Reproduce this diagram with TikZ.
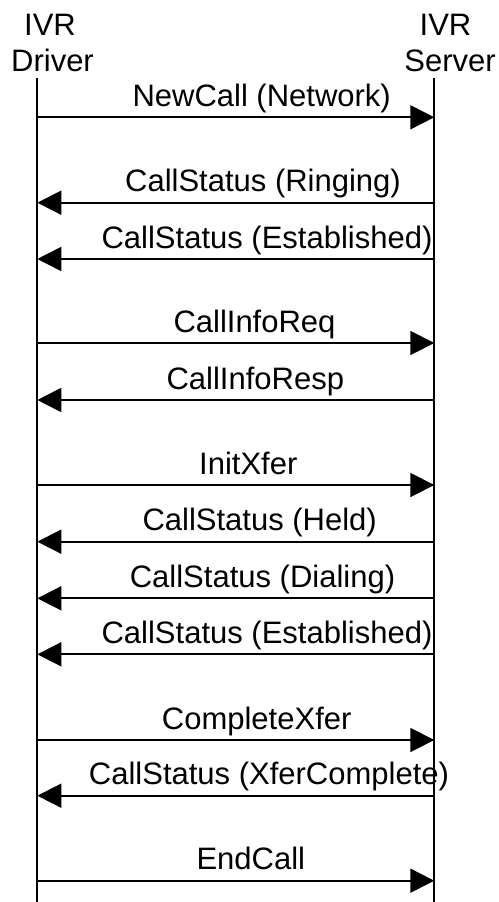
\documentclass[tikz,border=0pt]{standalone}
\usepackage{fontspec}
\setmainfont{Liberation Sans}
\usetikzlibrary{arrows.meta}
\tikzset{
  lbl/.style={anchor=base, inner sep=0pt, font=\fontsize{31}{36}\selectfont},
  hdr/.style={anchor=base, inner sep=0pt, font=\fontsize{31}{36}\selectfont},
  life/.style={line width=1.8pt},
  msg/.style={line width=1.8pt, -{Triangle[length=24pt,width=24pt]}}
}
\begin{document}
\begin{tikzpicture}[x=1pt,y=-1pt]
\useasboundingbox (0,0) rectangle (498,902);
% headers
\node[hdr] (ivrL) at (50,35) {IVR};
\node[hdr] (drv) at (52.5,71.7) {Driver};
\node[hdr] (ivrR) at (445.5,35) {IVR};
\node[hdr] (srv) at (450,71.7) {Server};
% lifelines
\coordinate (Ltop) at (37.3,78);
\coordinate (Lbot) at (37.3,902);
\coordinate (Rtop) at (434.3,78);
\coordinate (Rbot) at (434.3,902);
\draw[life] (Ltop) -- (Lbot);
\draw[life] (Rtop) -- (Rbot);
% messages
\foreach \i/\yy/\cx/\txt/\dir in {
  1/117.3/261.7/NewCall (Network)/r,
  2/202.7/263/CallStatus (Ringing)/l,
  3/259/267/CallStatus (Established)/l,
  4/343/254.5/CallInfoReq/r,
  5/400/255.3/CallInfoResp/l,
  6/485/248.3/InitXfer/r,
  7/541.7/259.7/CallStatus (Held)/l,
  8/598.3/262.5/CallStatus (Dialing)/l,
  9/654.3/267/CallStatus (Established)/l,
  10/740/256.7/CompleteXfer/r,
  11/795.7/269/CallStatus (XferComplete)/l,
  12/880.7/250.8/EndCall/r}{
  \coordinate (L\i) at (37.3,\yy);
  \coordinate (R\i) at (434.3,\yy);
  \node[lbl] (m\i) at (\cx,\yy-11) {\txt};
  \if r\dir
    \draw[msg] (L\i) -- (R\i);
  \else
    \draw[msg] (R\i) -- (L\i);
  \fi
}
\end{tikzpicture}
\end{document}
